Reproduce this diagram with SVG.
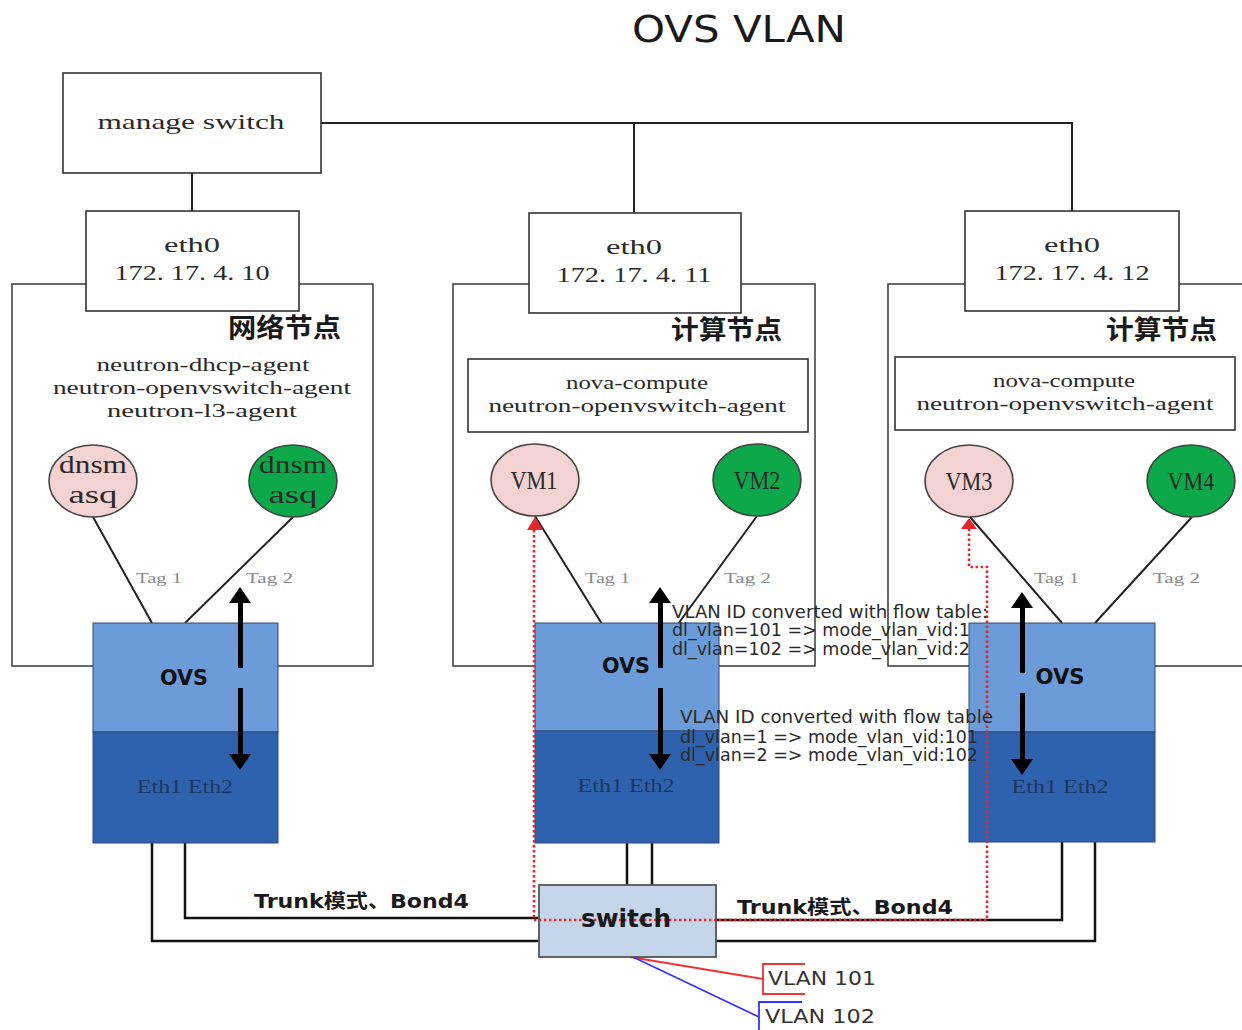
<svg xmlns="http://www.w3.org/2000/svg" width="1242" height="1030" viewBox="0 0 1242 1030">
<style>
.box{fill:#fff;stroke:#333;stroke-width:1.6}
.outer{fill:none;stroke:#444;stroke-width:1.6}
.ln{fill:none;stroke:#222;stroke-width:2}
.trunk{fill:none;stroke:#111;stroke-width:2.5}
.red{fill:none;stroke:#e3262b;stroke-width:2.6;stroke-dasharray:2.4 2.6}
.redhead{fill:#e3262b}
.ser{font-family:"Liberation Serif",serif;fill:#2a2a2a}
.cn{font-family:"Noto Sans CJK SC",sans-serif;font-weight:bold;font-size:26px;fill:#1a1a1a}
.tag{font-family:"Liberation Serif",serif;font-size:15px;fill:#8a8a8a}
.ovsT{font-family:"DejaVu Sans",sans-serif;font-weight:bold;font-size:21px;fill:#111}
.eth{font-family:"Liberation Serif",serif;font-size:18px;fill:#1b3760}
.flow{font-family:"DejaVu Sans",sans-serif;font-size:17px;fill:#2a2a2a}
.pink{fill:#f3d2d2;stroke:#444;stroke-width:1.6}
.green{fill:#0da84a;stroke:#444;stroke-width:1.6}
.up{fill:#6b9bd9;stroke:#2a4a7a;stroke-width:1}
.dn{fill:#2f62ae;stroke:#2a4a7a;stroke-width:1}
.arr{fill:#000}
.bold{font-family:"DejaVu Sans","Noto Sans CJK SC",sans-serif;font-weight:bold;fill:#1a1a1a}
</style>
<rect width="1242" height="1030" fill="#fff"/>

<text x="739" y="42" text-anchor="middle" font-family="DejaVu Sans, sans-serif" font-size="37" fill="#1a1a1a" textLength="214" lengthAdjust="spacingAndGlyphs">OVS VLAN</text>

<!-- outer node boxes -->
<g id="network-node">
<rect class="outer" x="12" y="284" width="361" height="382"/>
<text class="cn" x="341" y="337" text-anchor="end" textLength="113" lengthAdjust="spacingAndGlyphs">网络节点</text>
<text class="ser" x="203" y="371" font-size="19" text-anchor="middle" textLength="213" lengthAdjust="spacingAndGlyphs">neutron-dhcp-agent</text>
<text class="ser" x="202" y="394" font-size="19" text-anchor="middle" textLength="298" lengthAdjust="spacingAndGlyphs">neutron-openvswitch-agent</text>
<text class="ser" x="202" y="417" font-size="19" text-anchor="middle" textLength="190" lengthAdjust="spacingAndGlyphs">neutron-l3-agent</text>
</g>
<g id="compute-node-1">
<rect class="outer" x="453" y="284" width="362" height="382"/>
<text class="cn" x="782" y="339" text-anchor="end" textLength="111" lengthAdjust="spacingAndGlyphs">计算节点</text>
<rect class="box" x="468" y="359" width="340" height="73"/>
<text class="ser" x="637" y="389" font-size="19" text-anchor="middle" textLength="142" lengthAdjust="spacingAndGlyphs">nova-compute</text>
<text class="ser" x="637" y="412" font-size="19" text-anchor="middle" textLength="297" lengthAdjust="spacingAndGlyphs">neutron-openvswitch-agent</text>
</g>
<g id="compute-node-2">
<rect class="outer" x="888" y="284" width="370" height="382"/>
<text class="cn" x="1217" y="339" text-anchor="end" textLength="111" lengthAdjust="spacingAndGlyphs">计算节点</text>
<rect class="box" x="895" y="357" width="340" height="73"/>
<text class="ser" x="1064" y="387" font-size="19" text-anchor="middle" textLength="142" lengthAdjust="spacingAndGlyphs">nova-compute</text>
<text class="ser" x="1065" y="410" font-size="19" text-anchor="middle" textLength="297" lengthAdjust="spacingAndGlyphs">neutron-openvswitch-agent</text>
</g>

<!-- connectors -->
<g id="connectors">
<path class="ln" d="M192 173V211 M321 123H1072V211 M634 123V213"/>
<path class="ln" d="M93 517L152 623 M293 517L185 623"/>
<path class="ln" d="M535 516L602 624 M757 516L678 624"/>
<path class="ln" d="M970 517L1062 623 M1192 517L1095 623"/>
<path class="trunk" d="M152 843V941H539 M185 843V918H539"/>
<path class="trunk" d="M627 843V885 M652 843V885"/>
<path class="trunk" d="M1062 842V920H716 M1095 842V941H716"/>
<path fill="none" stroke="#e33" stroke-width="1.8" d="M630 957L763 979"/>
<path fill="none" stroke="#e33" stroke-width="1.8" d="M805 964H763V994H805"/>
<path fill="none" stroke="#33f" stroke-width="1.8" d="M633 957L759 1017"/>
<path fill="none" stroke="#33f" stroke-width="1.8" d="M802 1002H759V1032"/>
</g>

<g id="manage-switch">
<rect class="box" x="63" y="73" width="258" height="100"/>
<text class="ser" x="191" y="129" font-size="22" text-anchor="middle" textLength="187" lengthAdjust="spacingAndGlyphs">manage switch</text>
</g>
<g id="eth0-10">
<rect class="box" x="86" y="211" width="213" height="100"/>
<text class="ser" x="192" y="252" font-size="22" text-anchor="middle" textLength="56" lengthAdjust="spacingAndGlyphs">eth0</text>
<text class="ser" x="192" y="280" font-size="22" text-anchor="middle" textLength="155" lengthAdjust="spacingAndGlyphs">172. 17. 4. 10</text>
</g>
<g id="eth0-11">
<rect class="box" x="529" y="213" width="212" height="100"/>
<text class="ser" x="634" y="254" font-size="22" text-anchor="middle" textLength="56" lengthAdjust="spacingAndGlyphs">eth0</text>
<text class="ser" x="634" y="282" font-size="22" text-anchor="middle" textLength="155" lengthAdjust="spacingAndGlyphs">172. 17. 4. 11</text>
</g>
<g id="eth0-12">
<rect class="box" x="965" y="211" width="214" height="100"/>
<text class="ser" x="1072" y="252" font-size="22" text-anchor="middle" textLength="56" lengthAdjust="spacingAndGlyphs">eth0</text>
<text class="ser" x="1072" y="280" font-size="22" text-anchor="middle" textLength="155" lengthAdjust="spacingAndGlyphs">172. 17. 4. 12</text>
</g>

<!-- VMs -->
<g id="dnsmasq-1">
<ellipse class="pink" cx="93" cy="481" rx="44" ry="36"/>
<text class="ser" x="93" y="473" font-size="26" text-anchor="middle" textLength="68" lengthAdjust="spacingAndGlyphs">dnsm</text>
<text class="ser" x="93" y="503" font-size="26" text-anchor="middle" textLength="49" lengthAdjust="spacingAndGlyphs">asq</text>
</g>
<g id="dnsmasq-2">
<ellipse class="green" cx="293" cy="481" rx="44" ry="36"/>
<text class="ser" x="293" y="473" font-size="26" text-anchor="middle" textLength="68" lengthAdjust="spacingAndGlyphs">dnsm</text>
<text class="ser" x="293" y="503" font-size="26" text-anchor="middle" textLength="49" lengthAdjust="spacingAndGlyphs">asq</text>
</g>
<g id="vm1">
<ellipse class="pink" cx="535" cy="480" rx="44" ry="36"/>
<text class="ser" x="534" y="489" font-size="25" text-anchor="middle" textLength="47" lengthAdjust="spacingAndGlyphs">VM1</text>
</g>
<g id="vm2">
<ellipse class="green" cx="757" cy="480" rx="44" ry="36"/>
<text class="ser" x="757" y="489" font-size="25" text-anchor="middle" textLength="47" lengthAdjust="spacingAndGlyphs">VM2</text>
</g>
<g id="vm3">
<ellipse class="pink" cx="969" cy="481" rx="44" ry="36"/>
<text class="ser" x="969" y="490" font-size="25" text-anchor="middle" textLength="47" lengthAdjust="spacingAndGlyphs">VM3</text>
</g>
<g id="vm4">
<ellipse class="green" cx="1191" cy="481" rx="44" ry="36"/>
<text class="ser" x="1191" y="490" font-size="25" text-anchor="middle" textLength="47" lengthAdjust="spacingAndGlyphs">VM4</text>
</g>

<g id="tags">
<text class="tag" x="136" y="583" textLength="46" lengthAdjust="spacingAndGlyphs">Tag 1</text>
<text class="tag" x="246" y="583" textLength="47" lengthAdjust="spacingAndGlyphs">Tag 2</text>
<text class="tag" x="585" y="583" textLength="45" lengthAdjust="spacingAndGlyphs">Tag 1</text>
<text class="tag" x="724" y="583" textLength="47" lengthAdjust="spacingAndGlyphs">Tag 2</text>
<text class="tag" x="1034" y="583" textLength="45" lengthAdjust="spacingAndGlyphs">Tag 1</text>
<text class="tag" x="1153" y="583" textLength="47" lengthAdjust="spacingAndGlyphs">Tag 2</text>
</g>

<!-- OVS -->
<g id="ovs-1">
<rect class="up" x="93" y="623" width="185" height="109"/>
<rect class="dn" x="93" y="732" width="185" height="111"/>
<text class="ovsT" x="184" y="685" text-anchor="middle" textLength="48" lengthAdjust="spacingAndGlyphs">OVS</text>
<text class="eth" x="185" y="793" text-anchor="middle" textLength="96" lengthAdjust="spacingAndGlyphs">Eth1 Eth2</text>
</g>
<g id="ovs-2">
<rect class="up" x="535" y="623" width="184" height="108"/>
<rect class="dn" x="535" y="731" width="184" height="112"/>
<text class="ovsT" x="626" y="673" text-anchor="middle" textLength="48" lengthAdjust="spacingAndGlyphs">OVS</text>
<text class="eth" x="626" y="792" text-anchor="middle" textLength="97" lengthAdjust="spacingAndGlyphs">Eth1 Eth2</text>
</g>
<g id="ovs-3">
<rect class="up" x="969" y="623" width="186" height="109"/>
<rect class="dn" x="969" y="732" width="186" height="110"/>
<text class="ovsT" x="1060" y="684" text-anchor="middle" textLength="49" lengthAdjust="spacingAndGlyphs">OVS</text>
<text class="eth" x="1060" y="793" text-anchor="middle" textLength="97" lengthAdjust="spacingAndGlyphs">Eth1 Eth2</text>
</g>

<g id="switch">
<rect x="539" y="885" width="177" height="72" fill="#c6d6ea" stroke="#555" stroke-width="1.8"/>
</g>

<!-- red dotted paths -->
<g id="red-paths">
<path class="red" d="M534 530V920H987V567H969V528"/>
<polygon class="redhead" points="535,517 527,530 543,530"/>
<polygon class="redhead" points="969,518 961,529 977,529"/>
</g>
<text class="bold" x="626" y="927" font-size="24" text-anchor="middle" textLength="90" lengthAdjust="spacingAndGlyphs">switch</text>

<!-- black arrows -->
<g id="arrows">
<polygon class="arr" points="240,587 229,603 251,603"/><rect class="arr" x="238" y="602" width="5" height="66"/>
<rect class="arr" x="238" y="688" width="5" height="67"/><polygon class="arr" points="229,754 251,754 240,770"/>
<polygon class="arr" points="660,587 649,603 671,603"/><rect class="arr" x="658" y="602" width="5" height="66"/>
<rect class="arr" x="658" y="688" width="5" height="67"/><polygon class="arr" points="649,754 671,754 660,770"/>
<polygon class="arr" points="1022,592 1011,608 1033,608"/><rect class="arr" x="1020" y="607" width="5" height="66"/>
<rect class="arr" x="1020" y="693" width="5" height="67"/><polygon class="arr" points="1011,759 1033,759 1022,775"/>
</g>

<g id="flow-text">
<text class="flow" x="672" y="618" textLength="316" lengthAdjust="spacingAndGlyphs">VLAN ID converted with flow table:</text>
<text class="flow" x="672" y="636" textLength="298" lengthAdjust="spacingAndGlyphs">dl_vlan=101 =&gt; mode_vlan_vid:1</text>
<text class="flow" x="672" y="655" textLength="298" lengthAdjust="spacingAndGlyphs">dl_vlan=102 =&gt; mode_vlan_vid:2</text>
<text class="flow" x="680" y="723" textLength="313" lengthAdjust="spacingAndGlyphs">VLAN ID converted with flow table</text>
<text class="flow" x="680" y="743" textLength="298" lengthAdjust="spacingAndGlyphs">dl_vlan=1 =&gt; mode_vlan_vid:101</text>
<text class="flow" x="680" y="761" textLength="298" lengthAdjust="spacingAndGlyphs">dl_vlan=2 =&gt; mode_vlan_vid:102</text>
</g>

<g id="labels">
<text class="bold" x="254" y="908" font-size="19" textLength="215" lengthAdjust="spacingAndGlyphs">Trunk模式、Bond4</text>
<text class="bold" x="737" y="914" font-size="19" textLength="216" lengthAdjust="spacingAndGlyphs">Trunk模式、Bond4</text>
<text x="768" y="985" font-family="DejaVu Sans, sans-serif" font-size="20" fill="#333" textLength="108" lengthAdjust="spacingAndGlyphs">VLAN 101</text>
<text x="765" y="1023" font-family="DejaVu Sans, sans-serif" font-size="20" fill="#333" textLength="110" lengthAdjust="spacingAndGlyphs">VLAN 102</text>
</g>
</svg>
